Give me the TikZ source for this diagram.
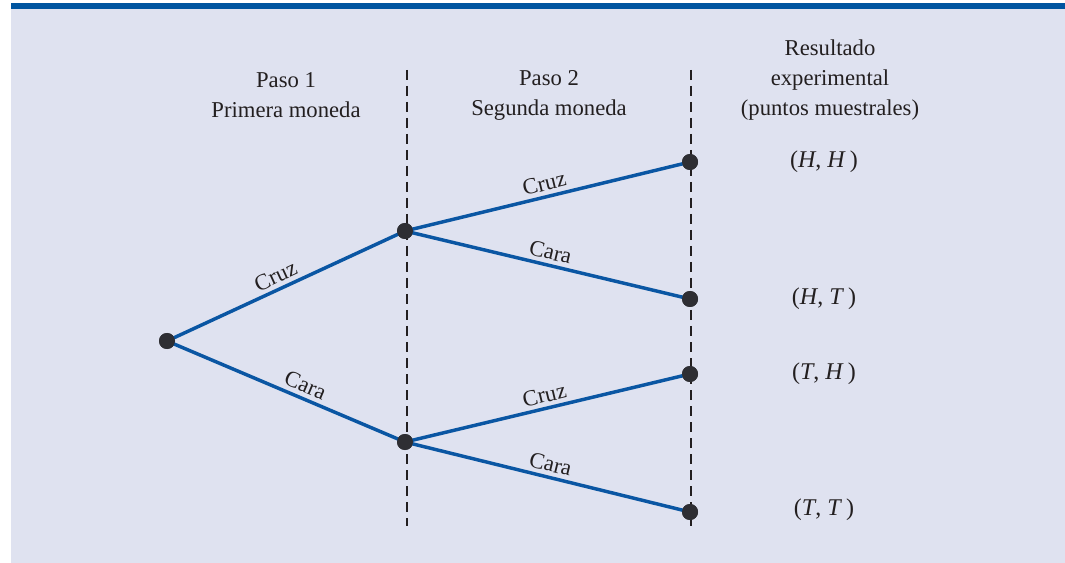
\documentclass[tikz,border=0pt]{standalone}
\usepackage{fontspec}
\setmainfont{Liberation Serif}
\definecolor{bgl}{HTML}{DFE2F0}
\definecolor{barblue}{HTML}{0055A0}
\definecolor{lineblue}{HTML}{0A56A3}
\definecolor{dotgray}{HTML}{2E2E33}
\definecolor{txt}{HTML}{231F20}
\begin{document}
\begin{tikzpicture}[x=0.75pt,y=-0.75pt,
  dot/.style={circle,fill=dotgray,inner sep=0pt,minimum size=12pt},
  branch/.style={draw=lineblue,line width=2.6pt},
  divider/.style={draw=txt,line width=1.4pt,dash pattern=on 7.5pt off 4.5pt},
  lbl/.style={font=\fontsize{17}{20}\selectfont,text=txt,sloped,above,inner sep=3pt},
  head/.style={font=\fontsize{17}{22.5}\selectfont,text=txt,align=center},
  outc/.style={font=\fontsize{18}{22}\selectfont,text=txt}]
\useasboundingbox (0,0) rectangle (1065,563);
\fill[bgl] (11,9) rectangle (1065,563);
\fill[barblue] (11,3) rectangle (1065,9.5);
% dividers
\coordinate (d1t) at (407,70); \coordinate (d1b) at (407,526);
\coordinate (d2t) at (691,70); \coordinate (d2b) at (691,526);
\draw[divider] (d1t) -- (d1b);
\draw[divider] (d2t) -- (d2b);
% headers
\node[head] (h1) at (286,95) {Paso 1\\Primera moneda};
\node[head] (h2) at (549,95) {Paso 2\\Segunda moneda};
\node[head] (h3) at (830,80) {Resultado\\experimental\\(puntos muestrales)};
% nodes
\node[dot] (r) at (167,341) {};
\node[dot] (a) at (405,231) {};
\node[dot] (b) at (405,442) {};
\node[dot] (hh) at (690,162) {};
\node[dot] (ht) at (690,299) {};
\node[dot] (th) at (690,374) {};
\node[dot] (tt) at (690,512) {};
% branches
\draw[branch] (r.center) -- node[lbl,pos=0.48] {Cruz} (a.center);
\draw[branch] (r.center) -- node[lbl,pos=0.56] {Cara} (b.center);
\draw[branch] (a.center) -- node[lbl] {Cruz} (hh.center);
\draw[branch] (a.center) -- node[lbl] {Cara} (ht.center);
\draw[branch] (b.center) -- node[lbl] {Cruz} (th.center);
\draw[branch] (b.center) -- node[lbl] {Cara} (tt.center);
% dots on top of the branches
\foreach \n in {r,a,b,hh,ht,th,tt} \fill[dotgray] (\n) circle (6pt);
% outcomes
\node[outc] (ohh) at (824,162) {(\textit{H}, \textit{H}\,)};
\node[outc] (oht) at (824,299) {(\textit{H}, \textit{T}\,)};
\node[outc] (oth) at (824,374) {(\textit{T}, \textit{H}\,)};
\node[outc] (ott) at (824,510) {(\textit{T}, \textit{T}\,)};
\end{tikzpicture}
\end{document}
